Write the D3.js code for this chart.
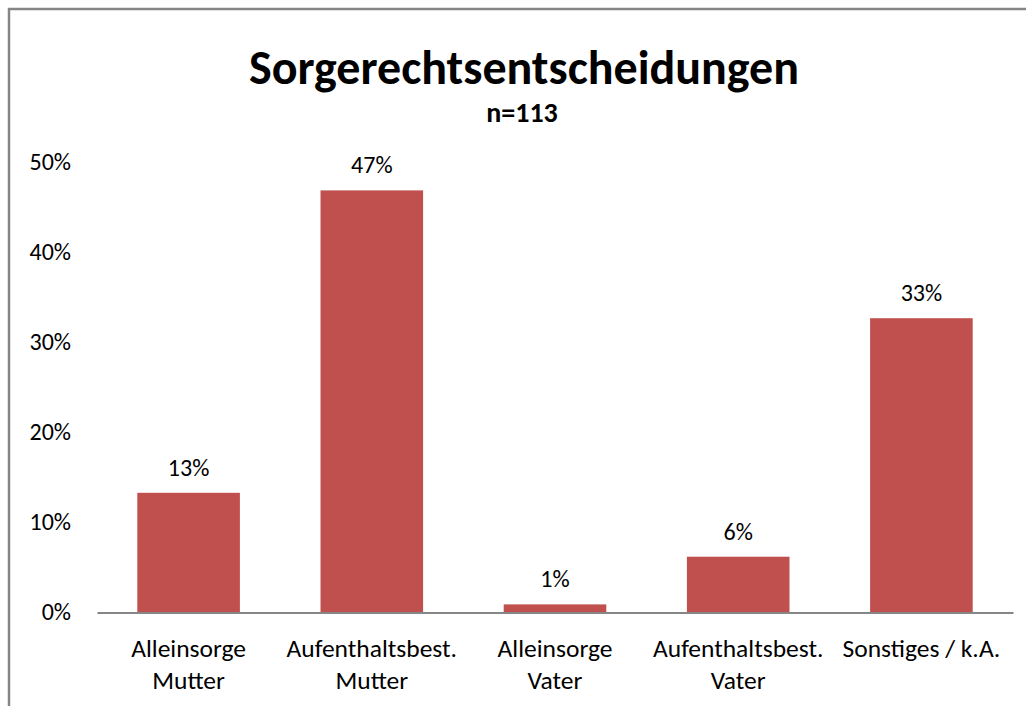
<!DOCTYPE html>
<html>
<head>
<meta charset="utf-8">
<script src="https://cdn.jsdelivr.net/npm/d3@7"></script>
<style>
  body { margin: 0; background: #fff; }
  svg { display: block; font-family: Calibri, Carlito, Lato, sans-serif; }
</style>
</head>
<body>
<div id="chart"></div>
<script>
// Data (n=113)
const categories = [
  ["Alleinsorge", "Mutter"],
  ["Aufenthaltsbest.", "Mutter"],
  ["Alleinsorge", "Vater"],
  ["Aufenthaltsbest.", "Vater"],
  ["Sonstiges / k.A."]
];
const values = [0.133, 0.469, 0.009, 0.062, 0.327];
const valueLabels = ["13%", "47%", "1%", "6%", "33%"];
const yTicks = [0, 0.1, 0.2, 0.3, 0.4, 0.5];

const width = 1026;
const height = 706;
const margin = { top: 162.5, right: 12, bottom: 93.5, left: 97 };

const svg = d3.select("#chart")
  .append("svg")
  .attr("width", width)
  .attr("height", height);

// outer frame, runs off the right and bottom edges
svg.append("rect")
  .attr("x", 9).attr("y", 9)
  .attr("width", width + 20).attr("height", height + 20)
  .attr("fill", "none")
  .attr("stroke", "#868686")
  .attr("stroke-width", 2.5);

const x = d3.scaleBand()
  .domain(d3.range(values.length))
  .range([margin.left, width - margin.right - 1])
  .paddingInner(0.44)
  .paddingOuter(0.22);

const y = d3.scaleLinear()
  .domain([0, 0.5])
  .range([height - margin.bottom, margin.top]);

// title
svg.append("text")
  .attr("x", 524).attr("y", 84)
  .attr("text-anchor", "middle")
  .attr("font-size", 48)
  .attr("font-weight", "bold")
  .text("Sorgerechtsentscheidungen");

svg.append("text")
  .attr("x", 522).attr("y", 122)
  .attr("text-anchor", "middle")
  .attr("font-size", 28)
  .attr("font-weight", "bold")
  .text("n=113");

// bars
svg.selectAll("rect.bar")
  .data(values)
  .enter()
  .append("rect")
  .attr("class", "bar")
  .attr("x", (d, i) => x(i))
  .attr("y", d => y(d))
  .attr("width", x.bandwidth())
  .attr("height", d => y(0) - y(d))
  .attr("fill", "#C0504D");

// value labels
svg.selectAll("text.val")
  .data(values)
  .enter()
  .append("text")
  .attr("class", "val")
  .attr("x", (d, i) => x(i) + x.bandwidth() / 2)
  .attr("y", d => y(d) - 17)
  .attr("text-anchor", "middle")
  .attr("font-size", 24)
  .text((d, i) => valueLabels[i]);

// Y axis labels only (no axis line)
const yAxis = svg.append("g")
  .attr("transform", `translate(${margin.left},0)`)
  .call(d3.axisLeft(y).tickValues(yTicks).tickFormat(d3.format(".0%")).tickSize(0).tickPadding(26));
yAxis.attr("font-family", null).attr("font-size", 24);
yAxis.select(".domain").remove();
yAxis.selectAll("text").attr("fill", "#000").attr("dy", "0.3em");

// X axis baseline
const xAxis = svg.append("g")
  .attr("transform", `translate(0,${y(0)})`)
  .call(d3.axisBottom(x).tickSize(0).tickFormat(""));
xAxis.select(".domain").attr("stroke", "#868686").attr("stroke-width", 2);

// category labels
const cat = svg.selectAll("text.cat")
  .data(categories)
  .enter()
  .append("text")
  .attr("class", "cat")
  .attr("x", (d, i) => x(i) + x.bandwidth() / 2)
  .attr("y", 657)
  .attr("text-anchor", "middle")
  .attr("font-size", 25.5);
cat.selectAll("tspan")
  .data(d => d)
  .enter()
  .append("tspan")
  .attr("x", function() { return this.parentNode.getAttribute("x"); })
  .attr("dy", (d, i) => i === 0 ? 0 : 32)
  .text(d => d);
</script>
</body>
</html>
